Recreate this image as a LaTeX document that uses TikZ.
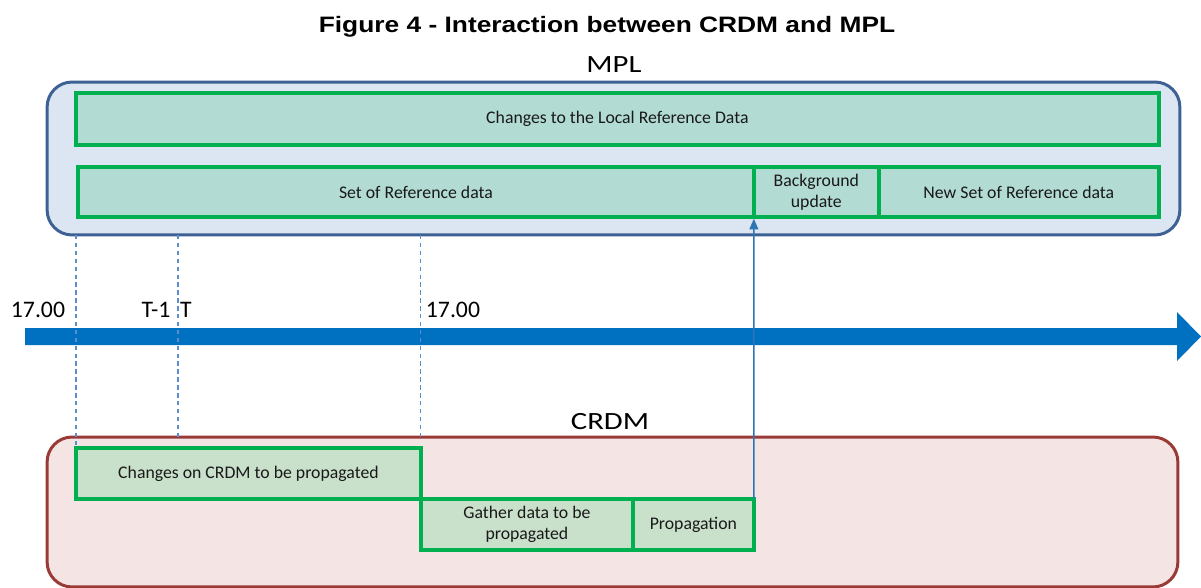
\documentclass[tikz,border=0pt]{standalone}
\usepackage{fontspec}
\setmainfont{Carlito}
\newfontfamily\headfont{Liberation Sans}[FakeStretch=1.18]
\newfontfamily\sysfont{Carlito}[FakeStretch=1.24]
\usetikzlibrary{positioning}
\usetikzlibrary{arrows.meta}
\definecolor{mplfill}{HTML}{DCE6F2}
\definecolor{mpldraw}{HTML}{3D6194}
\definecolor{crdmfill}{HTML}{F4E4E3}
\definecolor{crdmdraw}{HTML}{9A3A37}
\definecolor{boxgreen}{HTML}{00B050}
\definecolor{tealfill}{HTML}{B2DBD3}
\definecolor{mintfill}{HTML}{C9E0CB}
\definecolor{timeblue}{HTML}{0070C0}
\definecolor{guideblue}{HTML}{5B8FCC}
\definecolor{linkblue}{HTML}{2E75B6}
\tikzset{
	system/.style={rectangle,rounded corners=0.5cm,line width=1.7pt,inner sep=0pt,outer sep=0pt},
	mplbox/.style={system,draw=mpldraw,fill=mplfill},
	crdmbox/.style={system,draw=crdmdraw,fill=crdmfill},
	task/.style={rectangle,draw=boxgreen,line width=2pt,inner sep=0pt,outer sep=0pt,align=center,
		text=black!90,font=\fontsize{10.1}{12}\selectfont},
	mpltask/.style={task,fill=tealfill},
	crdmtask/.style={task,fill=mintfill},
	guide/.style={guideblue,line width=0.6pt,dash pattern=on 2.5pt off 2pt},
	tick/.style={anchor=base,inner sep=0pt,font=\fontsize{13.5}{16}\selectfont},
	syslabel/.style={anchor=base,inner sep=0pt,font=\sysfont\fontsize{14.1}{17}\selectfont},
	link/.style={linkblue,line width=0.8pt,-{Triangle[length=6pt,width=5pt]},shorten >=1pt},
}

\begin{document}
\begin{tikzpicture}[x=0.02cm,y=-0.02cm]
\useasboundingbox (0,0) rectangle (1201,588);

\node[anchor=base,inner sep=0pt,font=\headfont\bfseries\fontsize{12.7}{15}\selectfont] (title) at (607,33) {Figure 4 - Interaction between CRDM and MPL};

% the two systems
\node[mplbox,minimum width=22.66cm,minimum height=3.06cm] (mpl) at (613.5,158.5) {};
\node[crdmbox,minimum width=22.62cm,minimum height=3cm] (crdm) at (612.5,512) {};
\node[syslabel] (mpllab) at (614,73) {MPL};
\node[syslabel] (crdmlab) at (610,429) {CRDM};

% MPL side
\node[mpltask,anchor=north west,minimum width=21.66cm,minimum height=1.04cm] (local) at (76,93) {Changes to the Local Reference Data};
\node[mpltask,anchor=north west,minimum width=13.52cm,minimum height=1cm] (set) at (78,167) {Set of Reference data};
\node[mpltask,minimum width=2.5cm,minimum height=1cm,right=0pt of set] (bg) {Background\\update};
\node[mpltask,minimum width=5.6cm,minimum height=1cm,right=0pt of bg] (newset) {New Set of Reference data};

% CRDM side
\node[crdmtask,anchor=north west,minimum width=6.9cm,minimum height=1.02cm] (changes) at (76,448) {Changes on CRDM to be propagated};
\node[crdmtask,anchor=north west,minimum width=4.24cm,minimum height=1.02cm] (gather) at (changes.south east) {Gather data to be\\propagated};
\node[crdmtask,minimum width=2.42cm,minimum height=1.02cm,right=0pt of gather] (prop) {Propagation};

% time axis
\fill[timeblue] (25,328) -- (1177,328) -- (1177,312) -- (1201,336.5) -- (1177,361) -- (1177,345) -- (25,345) -- cycle;
\coordinate (tmark) at (178,336);
\node[tick] (start) at (38,317) {17.00};
\node[tick] (tminus) at (156,317) {T-1};
\node[tick] (tnow) at (186,317) {T};
\node[tick] (next) at (453,317) {17.00};

\draw[guide] (changes.north west |- mpl.south) -- (changes.north west);
\draw[guide] (tmark |- mpl.south) -- (tmark |- crdm.north);
\draw[guide] (changes.north east |- mpl.south) -- (changes.north east |- crdm.north);

\draw[link] (prop.north east) -- (bg.south west);
\end{tikzpicture}
\end{document}
